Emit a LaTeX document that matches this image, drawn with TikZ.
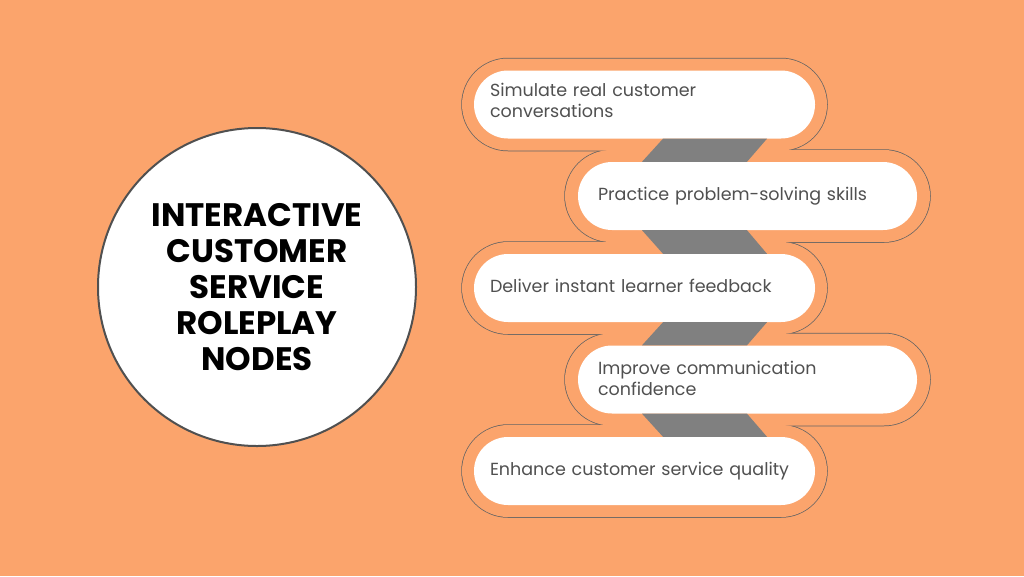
\documentclass[tikz,border=0pt]{standalone}
\usepackage{fontspec}
\setmainfont{Poppins}
\usetikzlibrary{positioning,calc}
\definecolor{bgorange}{RGB}{251,164,108}
\definecolor{ringgray}{RGB}{100,100,100}
\definecolor{bandgray}{RGB}{128,128,128}
\definecolor{txtgray}{RGB}{80,80,80}
\definecolor{rimgray}{RGB}{80,80,80}

\begin{document}
\begin{tikzpicture}[x=1pt,y=-1pt,
  pill/.style={rectangle,rounded corners=34pt,fill=white,minimum height=68pt,
    inner ysep=0pt,align=left,text=txtgray,text depth=5pt,
    font=\fontsize{17.5}{21}\selectfont},
  twoline/.style={text depth=29pt},
  leftpill/.style={pill,inner xsep=16pt,text width=309pt},
  rightpill/.style={pill,inner xsep=20pt,text width=299pt},
  ringline/.style={draw=ringgray,line width=1.5pt,rounded corners=46pt},
  ringfill/.style={fill=bgorange,rounded corners=46pt},
  band/.style={fill=bandgray},
  hub/.style={circle,fill=white,draw=rimgray,line width=2pt,minimum size=318pt,
    align=center,font=\fontsize{32.5}{35.8}\selectfont\bfseries}]
  \useasboundingbox[fill=bgorange] (0,0) rectangle (1024,576);

  % outline round the pills: stroke first, then fill to merge them
  \foreach \cx/\cy in {644.5/104.5,747.5/196,644.5/288,747.5/379.5,644.5/471}
    \path[ringline] (\cx-182.5,\cy-46) rectangle (\cx+182.5,\cy+46);
  \foreach \cx/\cy in {644.5/104.5,747.5/196,644.5/288,747.5/379.5,644.5/471}
    \path[ringfill] (\cx-182.5,\cy-46) rectangle (\cx+182.5,\cy+46);

  \node[hub] (title) at (257,287) {INTERACTIVE\\CUSTOMER\\SERVICE\\ROLEPLAY\\NODES};

  \node[leftpill,twoline]  (p1) at (644.5,104.5) {Simulate real customer\\conversations};
  \node[rightpill] (p2) at (747.5,196)   {Practice problem-solving skills};
  \node[leftpill]  (p3) at (644.5,288)   {Deliver instant learner feedback};
  \node[rightpill,twoline,text depth=23pt] (p4) at (747.5,379.5) {Improve communication\\confidence};
  \node[leftpill]  (p5) at (644.5,471)   {Enhance customer service quality};

  % zig-zag bands between the pills
  \fill[band] (663,0 |- p1.south) -- (767,0 |- p1.south) -- (747,0 |- p2.north) -- (642,0 |- p2.north) -- cycle;
  \fill[band] (642,0 |- p2.south) -- (747,0 |- p2.south) -- (767,0 |- p3.north) -- (663,0 |- p3.north) -- cycle;
  \fill[band] (663,0 |- p3.south) -- (767,0 |- p3.south) -- (747,0 |- p4.north) -- (642,0 |- p4.north) -- cycle;
  \fill[band] (642,0 |- p4.south) -- (747,0 |- p4.south) -- (767,0 |- p5.north) -- (663,0 |- p5.north) -- cycle;
\end{tikzpicture}
\end{document}
